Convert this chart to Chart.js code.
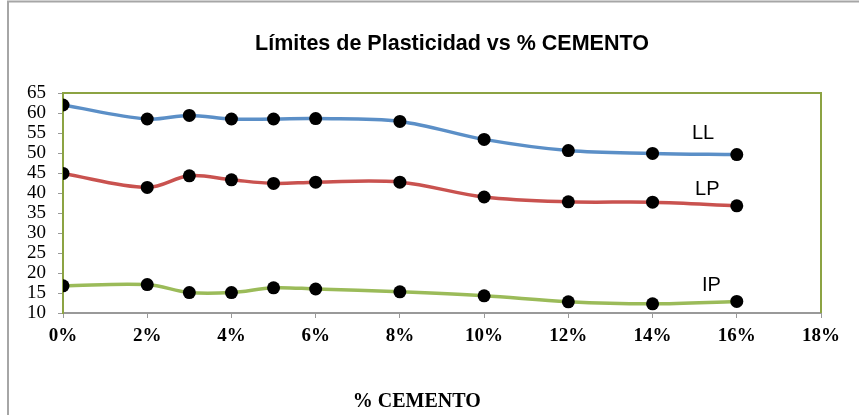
<!DOCTYPE html>
<html>
<head>
<meta charset="utf-8">
<script src="https://cdn.jsdelivr.net/npm/chart.js@4.4.0/dist/chart.umd.min.js"></script>
<style>
  html, body { margin: 0; padding: 0; background: #fff; }
  #wrap { width: 859px; height: 415px; position: relative; }
</style>
</head>
<body>
<div id="wrap"><canvas id="myLineChart"></canvas></div>
<script>
// Datos
const cemento = [0, 2, 3, 4, 5, 6, 8, 10, 12, 14, 16];
const ll = [62, 58.5, 59.4, 58.5, 58.5, 58.6, 57.9, 53.4, 50.6, 49.9, 49.6];
const lp = [44.9, 41.4, 44.3, 43.3, 42.4, 42.7, 42.7, 39, 37.8, 37.7, 36.8];
const ip = [16.8, 17.1, 15.1, 15.1, 16.3, 16, 15.3, 14.3, 12.8, 12.3, 12.9];
const serieNombres = ['LL', 'LP', 'IP'];
// posicion de las etiquetas en unidades del grafico (x %, y)
const etiquetaX = [15.2, 15.3, 15.4];
const etiquetaY = [55, 41, 16.8];
const titulo = 'Límites de Plasticidad vs % CEMENTO';

const toPoints = (arr) => arr.map((v, i) => ({ x: cemento[i], y: v }));

const framePlugin = {
    id: 'framePlugin',
    beforeDraw(chart) {
        const ctx = chart.ctx;
        ctx.save();
        ctx.strokeStyle = '#a6a6a6';
        ctx.lineWidth = 2;
        ctx.strokeRect(8, 1.5, 860, 420);
        ctx.fillStyle = '#000';
        ctx.font = 'bold 21.5px "Liberation Sans", Arial, sans-serif';
        ctx.textAlign = 'center';
        ctx.textBaseline = 'middle';
        ctx.fillText(titulo, 452, 44);
        ctx.restore();
    },
    afterDatasetsDraw(chart) {
        const { ctx, chartArea, scales } = chart;
        ctx.save();
        ctx.strokeStyle = '#8ca343';
        ctx.lineWidth = 2;
        ctx.beginPath();
        ctx.moveTo(chartArea.left, chartArea.top);
        ctx.lineTo(chartArea.right, chartArea.top);
        ctx.lineTo(chartArea.right, chartArea.bottom);
        ctx.stroke();
        // etiquetas de series
        ctx.fillStyle = '#000';
        ctx.font = '20px "Liberation Sans", Arial, sans-serif';
        ctx.textAlign = 'center';
        ctx.textBaseline = 'middle';
        serieNombres.forEach((n, i) => {
            ctx.fillText(n, scales.x.getPixelForValue(etiquetaX[i]), scales.y.getPixelForValue(etiquetaY[i]));
        });
        // titulo del eje x
        ctx.font = 'bold 20px "Liberation Serif", "Times New Roman", serif';
        ctx.fillText('% CEMENTO', scales.x.getPixelForValue(8.4), 402);
        ctx.restore();
    }
};

const serieBase = {
    borderWidth: 3.5,
    pointRadius: 6.5,
    pointBackgroundColor: '#000',
    pointBorderColor: '#000',
    pointBorderWidth: 0,
    tension: 0.35
};

const ctxLine = document.getElementById('myLineChart').getContext('2d');
const myLineChart = new Chart(ctxLine, {
    type: 'line',
    data: {
        datasets: [
            Object.assign({ label: 'LL', data: toPoints(ll), borderColor: '#5b8fc7' }, serieBase),
            Object.assign({ label: 'LP', data: toPoints(lp), borderColor: '#c9524f' }, serieBase),
            Object.assign({ label: 'IP', data: toPoints(ip), borderColor: '#9bbb59' }, serieBase)
        ]
    },
    options: {
        responsive: true,
        maintainAspectRatio: false,
        animation: false,
        layout: { padding: { top: 93, right: 38, bottom: 0, left: 0 } },
        plugins: {
            legend: { display: false },
            tooltip: { enabled: false },
            title: { display: false }
        },
        scales: {
            x: {
                type: 'linear',
                min: 0,
                max: 18,
                ticks: {
                    stepSize: 2,
                    color: '#000',
                    padding: 7,
                    font: { family: '"Liberation Serif", "Times New Roman", serif', size: 19, weight: 'bold' },
                    callback: (v) => v + '%'
                },
                grid: { display: true, drawOnChartArea: false, drawTicks: true, tickLength: 5, color: '#999' },
                border: { color: '#999', width: 2 },
                afterFit: (s) => { s.height = 102; }
            },
            y: {
                min: 10,
                max: 65,
                ticks: {
                    stepSize: 5,
                    autoSkip: false,
                    color: '#000',
                    padding: 12,
                    font: { family: '"Liberation Serif", "Times New Roman", serif', size: 19 }
                },
                grid: { display: true, drawOnChartArea: false, drawTicks: true, tickLength: 5, color: '#999' },
                border: { color: '#8ca343', width: 2 },
                afterFit: (s) => { s.width = 63; }
            }
        }
    },
    plugins: [framePlugin]
});
</script>
</body>
</html>
